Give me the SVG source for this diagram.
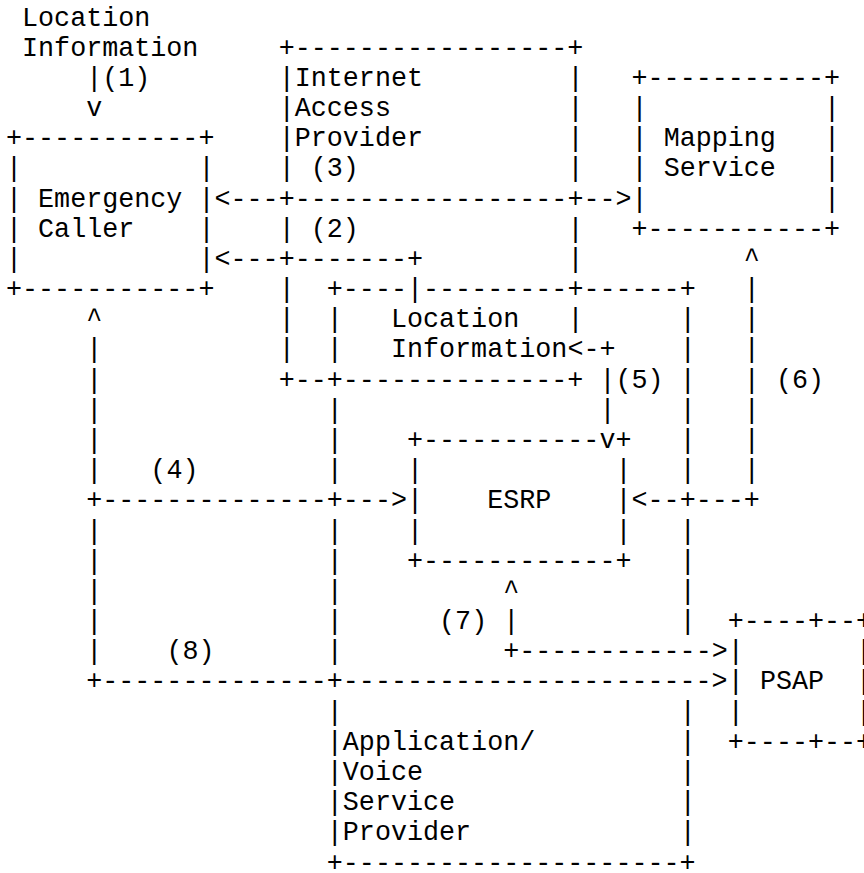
<svg xmlns="http://www.w3.org/2000/svg" width="864" height="873" viewBox="0 0 864 873">
<style>
text{font-family:"Liberation Mono","DejaVu Sans Mono",monospace;font-size:26.73px;fill:#000}
</style>
<rect x="0" y="0" width="864" height="873" fill="#fff"/>
<g id="location-source">
<text x="22.04" y="25.5">Location</text>
<text x="22.04" y="55.68">Information</text>
</g>
<g id="emergency-caller">
<text x="6" y="146.22">+-----------+</text>
<text x="6" y="176.4">|</text><text x="198.48" y="176.4">|</text>
<text x="6" y="206.58">|</text><text x="38.08" y="206.58">Emergency</text><text x="198.48" y="206.58">|</text>
<text x="6" y="236.76">|</text><text x="38.08" y="236.76">Caller</text><text x="198.48" y="236.76">|</text>
<text x="6" y="266.94">|</text><text x="198.48" y="266.94">|</text>
<text x="6" y="297.12">+-----------+</text>
</g>
<g id="internet-access-provider">
<text x="278.68" y="55.68">+-----------------+</text>
<text x="278.68" y="85.86">|Internet</text><text x="567.4" y="85.86">|</text>
<text x="278.68" y="116.04">|Access</text><text x="567.4" y="116.04">|</text>
<text x="278.68" y="146.22">|Provider</text><text x="567.4" y="146.22">|</text>
<text x="278.68" y="176.4">|</text><text x="567.4" y="176.4">|</text>
<text x="278.68" y="206.58">+</text><text x="567.4" y="206.58">+</text>
<text x="278.68" y="236.76">|</text><text x="567.4" y="236.76">|</text>
<text x="278.68" y="266.94">+</text><text x="567.4" y="266.94">|</text>
<text x="278.68" y="297.12">|</text><text x="567.4" y="297.12">+</text>
<text x="278.68" y="327.3">|</text><text x="567.4" y="327.3">|</text>
<text x="278.68" y="357.48">|</text>
<text x="278.68" y="387.66">+--+--------------+</text>
</g>
<g id="mapping-service">
<text x="631.56" y="85.86">+-----------+</text>
<text x="631.56" y="116.04">|</text><text x="824.04" y="116.04">|</text>
<text x="631.56" y="146.22">|</text><text x="663.64" y="146.22">Mapping</text><text x="824.04" y="146.22">|</text>
<text x="631.56" y="176.4">|</text><text x="663.64" y="176.4">Service</text><text x="824.04" y="176.4">|</text>
<text x="631.56" y="206.58">|</text><text x="824.04" y="206.58">|</text>
<text x="631.56" y="236.76">+-----------+</text>
</g>
<g id="location-information">
<text x="390.96" y="327.3">Location</text>
<text x="390.96" y="357.48">Information</text>
</g>
<g id="app-voice-service-provider">
<text x="326.8" y="297.12">+----</text><text x="423.04" y="297.12">---------</text><text x="583.44" y="297.12">------+</text>
<text x="326.8" y="327.3">|</text><text x="679.68" y="327.3">|</text>
<text x="326.8" y="357.48">|</text><text x="679.68" y="357.48">|</text>
<text x="679.68" y="387.66">|</text>
<text x="326.8" y="417.84">|</text><text x="679.68" y="417.84">|</text>
<text x="326.8" y="448.02">|</text><text x="679.68" y="448.02">|</text>
<text x="326.8" y="478.2">|</text><text x="679.68" y="478.2">|</text>
<text x="326.8" y="508.38">+</text><text x="679.68" y="508.38">+</text>
<text x="326.8" y="538.56">|</text><text x="679.68" y="538.56">|</text>
<text x="326.8" y="568.74">|</text><text x="679.68" y="568.74">|</text>
<text x="326.8" y="598.92">|</text><text x="679.68" y="598.92">|</text>
<text x="326.8" y="629.1">|</text><text x="679.68" y="629.1">|</text>
<text x="326.8" y="659.28">|</text>
<text x="326.8" y="689.46">+</text>
<text x="326.8" y="719.64">|</text><text x="679.68" y="719.64">|</text>
<text x="326.8" y="749.82">|Application/</text><text x="679.68" y="749.82">|</text>
<text x="326.8" y="780">|Voice</text><text x="679.68" y="780">|</text>
<text x="326.8" y="810.18">|Service</text><text x="679.68" y="810.18">|</text>
<text x="326.8" y="840.36">|Provider</text><text x="679.68" y="840.36">|</text>
<text x="326.8" y="870.54">+---------------------+</text>
</g>
<g id="esrp">
<text x="407" y="448.02">+-----------</text><text x="615.52" y="448.02">+</text>
<text x="407" y="478.2">|</text><text x="615.52" y="478.2">|</text>
<text x="407" y="508.38">|</text><text x="487.2" y="508.38">ESRP</text><text x="615.52" y="508.38">|</text>
<text x="407" y="538.56">|</text><text x="615.52" y="538.56">|</text>
<text x="407" y="568.74">+------------+</text>
</g>
<g id="psap">
<text x="727.8" y="629.1">+----+--+</text>
<text x="727.8" y="659.28">|</text><text x="856.12" y="659.28">|</text>
<text x="727.8" y="689.46">|</text><text x="759.88" y="689.46">PSAP</text><text x="856.12" y="689.46">|</text>
<text x="727.8" y="719.64">|</text><text x="856.12" y="719.64">|</text>
<text x="727.8" y="749.82">+----+--+</text>
</g>
<g id="connectors">
<g id="conn-1">
<text x="86.2" y="85.86">|(1)</text>
<text x="86.2" y="116.04">v</text>
</g>
<g id="conn-2">
<text x="310.76" y="236.76">(2)</text>
<text x="214.52" y="266.94">&lt;---</text>
<text x="294.72" y="266.94">-------+</text>
<text x="407" y="297.12">|</text>
</g>
<g id="conn-3">
<text x="310.76" y="176.4">(3)</text>
<text x="214.52" y="206.58">&lt;---</text>
<text x="294.72" y="206.58">-----------------</text>
<text x="583.44" y="206.58">--&gt;</text>
</g>
<g id="conn-4">
<text x="86.2" y="327.3">^</text>
<text x="86.2" y="357.48">|</text>
<text x="86.2" y="387.66">|</text>
<text x="86.2" y="417.84">|</text>
<text x="86.2" y="448.02">|</text>
<text x="86.2" y="478.2">|</text>
<text x="150.36" y="478.2">(4)</text>
<text x="86.2" y="508.38">+--------------</text>
<text x="342.84" y="508.38">---&gt;</text>
</g>
<g id="conn-5">
<text x="567.4" y="357.48">&lt;-+</text>
<text x="599.48" y="387.66">|(5)</text>
<text x="599.48" y="417.84">|</text>
<text x="599.48" y="448.02">v</text>
</g>
<g id="conn-6">
<text x="743.84" y="266.94">^</text>
<text x="743.84" y="297.12">|</text>
<text x="743.84" y="327.3">|</text>
<text x="743.84" y="357.48">|</text>
<text x="743.84" y="387.66">|</text>
<text x="775.92" y="387.66">(6)</text>
<text x="743.84" y="417.84">|</text>
<text x="743.84" y="448.02">|</text>
<text x="743.84" y="478.2">|</text>
<text x="631.56" y="508.38">&lt;--</text>
<text x="695.72" y="508.38">---+</text>
</g>
<g id="conn-7">
<text x="503.24" y="598.92">^</text>
<text x="439.08" y="629.1">(7)</text>
<text x="503.24" y="629.1">|</text>
<text x="503.24" y="659.28">+------------&gt;</text>
</g>
<g id="conn-8">
<text x="86.2" y="538.56">|</text>
<text x="86.2" y="568.74">|</text>
<text x="86.2" y="598.92">|</text>
<text x="86.2" y="629.1">|</text>
<text x="86.2" y="659.28">|</text>
<text x="166.4" y="659.28">(8)</text>
<text x="86.2" y="689.46">+--------------</text>
<text x="342.84" y="689.46">-----------------------&gt;</text>
</g>
</g>
</svg>
